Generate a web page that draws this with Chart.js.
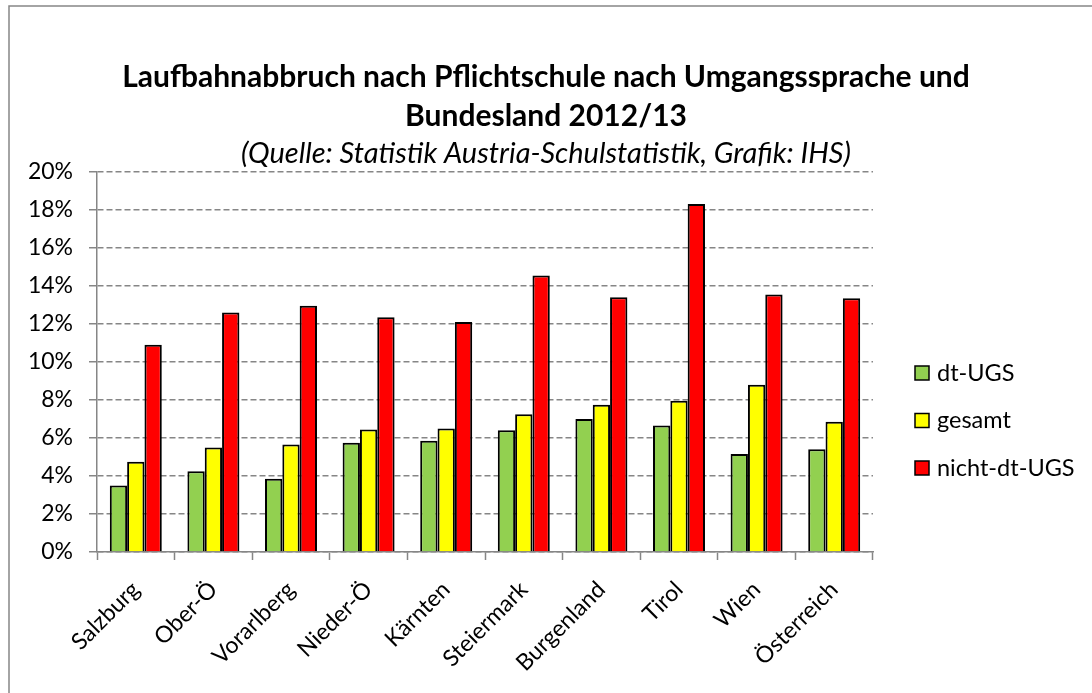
<!DOCTYPE html>
<html>
<head>
<meta charset="utf-8">
<script src="https://cdn.jsdelivr.net/npm/chart.js@4"></script>
<style>
  html, body { margin: 0; padding: 0; background: #ffffff; }
  #wrap { position: relative; width: 1092px; height: 693px; }
</style>
</head>
<body>
<div id="wrap"><canvas id="barchart1"></canvas></div>
<script>
var regions = ['Salzburg', 'Ober-Ö', 'Vorarlberg', 'Nieder-Ö', 'Kärnten', 'Steiermark', 'Burgenland', 'Tirol', 'Wien', 'Österreich'];
var dtUGS = [3.5, 4.25, 3.85, 5.75, 5.85, 6.4, 7.0, 6.65, 5.15, 5.4];
var gesamt = [4.75, 5.5, 5.65, 6.45, 6.5, 7.25, 7.75, 7.95, 8.8, 6.85];
var nichtDtUGS = [10.9, 12.6, 12.95, 12.35, 12.1, 14.55, 13.4, 18.3, 13.55, 13.35];
var yTicks = [0, 2, 4, 6, 8, 10, 12, 14, 16, 18, 20];

var FONT = 'Lato, "Open Sans", sans-serif';
var GRAY = '#868686';

// grey frame round the whole picture (cut off at right and bottom like the original)
var frame = {
  id: 'frame',
  beforeDraw: function(chart) {
    var c = chart.ctx;
    c.save();
    c.fillStyle = '#ffffff';
    c.fillRect(0, 0, chart.width, chart.height);
    c.strokeStyle = GRAY;
    c.lineWidth = 1.5;
    c.strokeRect(9, 6, 2000, 2000);
    c.restore();
  }
};

// legend on the right, Excel style: small framed squares
var sideLegend = {
  id: 'sideLegend',
  afterDraw: function(chart) {
    var c = chart.ctx;
    var x = chart.chartArea.right + 42;
    var y = 373;
    c.save();
    c.font = '23.5px ' + FONT;
    c.textBaseline = 'middle';
    chart.data.datasets.forEach(function(d, i) {
      var yc = y + i * 47.5;
      c.fillStyle = d.backgroundColor;
      c.fillRect(x, yc - 7, 14, 14);
      c.strokeStyle = '#000000';
      c.lineWidth = 1.5;
      c.strokeRect(x, yc - 7, 14, 14);
      c.fillStyle = '#000000';
      c.fillText(d.label, x + 22, yc);
    });
    c.restore();
  }
};

function ds(label, values, color) {
  return {
    label: label,
    data: values,
    backgroundColor: color,
    borderColor: '#000000',
    borderWidth: 2,
    categoryPercentage: 0.67,
    barPercentage: 1.0
  };
}

const ctx = document.getElementById('barchart1').getContext('2d');
const barchart1 = new Chart(ctx, {
  type: 'bar',
  data: {
    labels: regions,
    datasets: [
      ds('dt-UGS', dtUGS, '#92D050'),
      ds('gesamt', gesamt, '#FFFF00'),
      ds('nicht-dt-UGS', nichtDtUGS, '#FF0000')
    ]
  },
  plugins: [frame, sideLegend],
  options: {
    responsive: true,
    maintainAspectRatio: false,
    animation: false,
    plugins: {
      title: {
        display: true,
        text: ['Laufbahnabbruch nach Pflichtschule nach Umgangssprache und', 'Bundesland 2012/13'],
        color: '#000000',
        font: { family: FONT, size: 30, weight: 'bold', lineHeight: 1.3 },
        padding: { top: 58, bottom: 0 }
      },
      subtitle: {
        display: true,
        text: '(Quelle: Statistik Austria-Schulstatistik, Grafik: IHS)',
        color: '#000000',
        font: { family: FONT, size: 29, style: 'italic', lineHeight: 1.2 },
        padding: { top: 0, bottom: 1 }
      },
      legend: { display: false },
      tooltip: { enabled: false }
    },
    scales: {
      x: {
        offset: true,
        grid: {
          display: true,
          offset: true,
          drawOnChartArea: false,
          tickLength: 8,
          tickColor: GRAY,
          tickWidth: 1.5,
          tickBorderDash: []
        },
        border: { color: GRAY, width: 1.5 },
        ticks: {
          color: '#000000',
          font: { family: FONT, size: 23 },
          minRotation: 45,
          maxRotation: 45,
          padding: 16
        },
        afterFit: function(scale) { scale.height = 141; }
      },
      y: {
        min: 0,
        max: 20,
        afterBuildTicks: function(scale) {
          scale.ticks = yTicks.map(function(v) { return { value: v }; });
        },
        grid: {
          color: GRAY,
          lineWidth: 1.5,
          tickLength: 8,
          tickColor: GRAY,
          tickWidth: 1.5,
          tickBorderDash: []
        },
        border: { color: GRAY, width: 1.5, dash: [6, 3] },
        ticks: {
          color: '#000000',
          font: { family: FONT, size: 23 },
          padding: 16,
          callback: function(v) { return v + '%'; }
        },
        afterFit: function(scale) { scale.width = 97; }
      },
      // empty axis that only keeps the room for the legend on the right
      legendRoom: {
        type: 'linear',
        position: 'right',
        display: true,
        grid: { display: false },
        border: { display: false },
        ticks: { display: false },
        afterFit: function(scale) { scale.width = 219; }
      }
    }
  }
});
</script>
</body>
</html>
